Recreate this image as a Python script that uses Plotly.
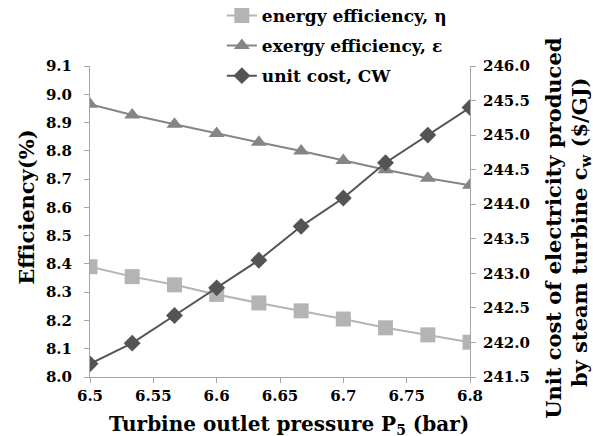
import plotly.graph_objects as go

pressure = [6.5, 6.5333, 6.5667, 6.6, 6.6333, 6.6667, 6.7, 6.7333, 6.7667, 6.8]
energy_eff = [8.39, 8.355, 8.326, 8.292, 8.262, 8.234, 8.205, 8.174, 8.149, 8.123]
exergy_eff = [8.965, 8.927, 8.894, 8.861, 8.830, 8.799, 8.766, 8.733, 8.703, 8.678]
unit_cost = [241.69, 241.99, 242.39, 242.79, 243.19, 243.68, 244.09, 244.6, 245.0, 245.4]

x_ticks = [6.5, 6.55, 6.6, 6.65, 6.7, 6.75, 6.8]
x_ticktext = ["6.5", "6.55", "6.6", "6.65", "6.7", "6.75", "6.8"]

FAMILY = "DejaVu Serif"
TICK_FONT = dict(family=FAMILY, size=15, color="black", weight="bold")

fig = go.Figure()
fig.add_trace(go.Scatter(
    x=pressure, y=energy_eff, name="<b>energy efficiency, η</b>",
    mode="lines+markers",
    line=dict(color="#b4b4b4", width=2),
    marker=dict(symbol="square", size=15, color="#b4b4b4"),
    legendgroup="a",
))
fig.add_trace(go.Scatter(
    x=pressure, y=exergy_eff, name="<b>exergy efficiency, ε</b>",
    mode="lines+markers",
    line=dict(color="#858585", width=2),
    marker=dict(symbol="triangle-up", size=14, color="#858585"),
    legendgroup="b",
))
fig.add_trace(go.Scatter(
    x=pressure, y=unit_cost, name="<b>unit cost, CW</b>",
    mode="lines+markers", yaxis="y2",
    line=dict(color="#545454", width=2),
    marker=dict(symbol="diamond", size=13, color="#545454"),
    legendgroup="c",
))

line_style = dict(
    showgrid=False, zeroline=False, showline=True, linecolor="#a6a6a6",
    linewidth=1, ticks="outside", tickcolor="#a6a6a6", ticklen=5,
    tickfont=TICK_FONT,
)

fig.update_layout(
    width=593, height=436,
    margin=dict(l=90, r=123, t=66, b=59, autoexpand=False),
    paper_bgcolor="white", plot_bgcolor="white",
    font=dict(family=FAMILY, color="black"),
    showlegend=True,
    legend=dict(
        x=0.347, y=1.219, xanchor="left", yanchor="top",
        font=dict(family=FAMILY, size=17, color="black"),
        bgcolor="rgba(0,0,0,0)", tracegroupgap=5,
    ),
    xaxis=dict(
        range=[6.5, 6.8], tickvals=x_ticks, ticktext=x_ticktext,
        **line_style,
    ),
    yaxis=dict(
        range=[8.0, 9.1], dtick=0.1, tick0=8.0, tickformat=".1f",
        ticklabelstandoff=9,
        **line_style,
    ),
    yaxis2=dict(
        range=[241.5, 246.0], dtick=0.5, tick0=241.5, tickformat=".1f",
        overlaying="y", side="right", ticklabelstandoff=4,
        **line_style,
    ),
    annotations=[
        dict(text="<b>Turbine outlet pressure P<sub>5</sub> (bar)</b>",
             xref="paper", yref="paper", x=0.524, y=-0.106,
             xanchor="center", yanchor="top", showarrow=False,
             font=dict(family=FAMILY, size=20, color="black")),
        dict(text="<b>Efficiency(%)</b>",
             xref="paper", yref="paper", x=-0.166, y=0.547,
             xanchor="center", yanchor="middle", textangle=-90, showarrow=False,
             font=dict(family=FAMILY, size=21, color="black")),
        dict(text="<b>Unit cost of electricity produced</b>",
             xref="paper", yref="paper", x=1.218, y=0.479,
             xanchor="center", yanchor="middle", textangle=-90, showarrow=False,
             font=dict(family=FAMILY, size=21, color="black")),
        dict(text="<b>by steam turbine c<sub>w</sub> ($/GJ)</b>",
             xref="paper", yref="paper", x=1.2895, y=0.466,
             xanchor="center", yanchor="middle", textangle=-90, showarrow=False,
             font=dict(family=FAMILY, size=21, color="black")),
    ],
)

fig.write_html("out.html")
